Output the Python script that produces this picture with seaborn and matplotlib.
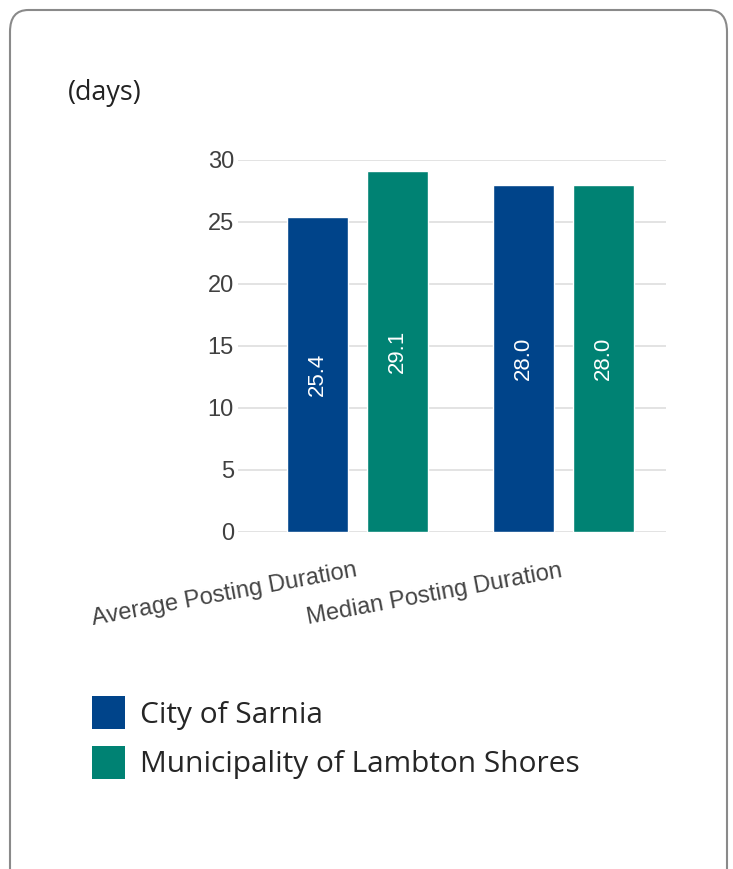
import seaborn as sns
import matplotlib.pyplot as plt
import pandas as pd
from matplotlib.patches import FancyBboxPatch, Patch

# values
categories = ['Average Posting Duration', 'Median Posting Duration']
regions = ['City of Sarnia', 'Municipality of Lambton Shores']
sarnia = [25.4, 28.0]
lambton = [29.1, 28.0]
yticks = [0, 5, 10, 15, 20, 25, 30]
colors = ['#00448A', '#008273']

df = pd.DataFrame({
    'measure': categories * 2,
    'region': [regions[0]] * 2 + [regions[1]] * 2,
    'days': sarnia + lambton,
})

sns.set_style('white')
plt.rcParams['font.family'] = ['Liberation Sans', 'DejaVu Sans']

fig = plt.figure(figsize=(7.33, 8.69), dpi=100)
ax = fig.add_axes([238 / 733, 1 - 532 / 869, 428 / 733, 372 / 869])

sns.barplot(data=df, x='measure', y='days', hue='region', palette=colors,
            saturation=1, width=0.78, gap=0.24, ax=ax, legend=False,
            zorder=3)

for cont in ax.containers:
    ax.bar_label(cont, fmt='%.1f', label_type='center', rotation=90,
                 color='white', fontsize=16)

ax.set_ylim(0, 30)
ax.set_xlim(-0.58, 1.498)
ax.set_yticks(yticks)
ax.yaxis.grid(True, color='#dedede', linewidth=1.2, zorder=0)
ax.set_axisbelow(True)
sns.despine(ax=ax, left=True, bottom=True, top=True, right=True)
ax.tick_params(axis='y', length=0, pad=3, labelsize=17, labelcolor='#404040')
ax.tick_params(axis='x', length=0, pad=32, labelsize=17, labelcolor='#444444')
ax.set_xticks(range(len(categories)))
ax.set_xticklabels(categories, rotation=10.5, ha='right', va='baseline',
                   rotation_mode='anchor')
ax.set_xlabel('')
ax.set_ylabel('')

fig.text(68 / 733, 1 - 93 / 869, '(days)', fontsize=19.4, family='Open Sans',
         color='#222222', va='center')

handles = [Patch(facecolor=c, edgecolor='none') for c in colors]
fig.legend(handles, regions, loc='upper left',
           bbox_to_anchor=(92 / 733, 1 - 696 / 869), frameon=False,
           prop={'family': 'Open Sans', 'size': 21.5}, handlelength=1.107,
           handleheight=1.326, handletextpad=0.5, labelspacing=0.55,
           borderpad=0, borderaxespad=0)

border = FancyBboxPatch((10 / 733, -0.05), 717 / 733, 1.05 - 10 / 869,
                        boxstyle='round,pad=0,rounding_size=0.025',
                        transform=fig.transFigure, facecolor='none',
                        edgecolor='#8a8a8a', linewidth=1.5)
fig.patches.append(border)

fig.savefig('out.png', dpi=100)
